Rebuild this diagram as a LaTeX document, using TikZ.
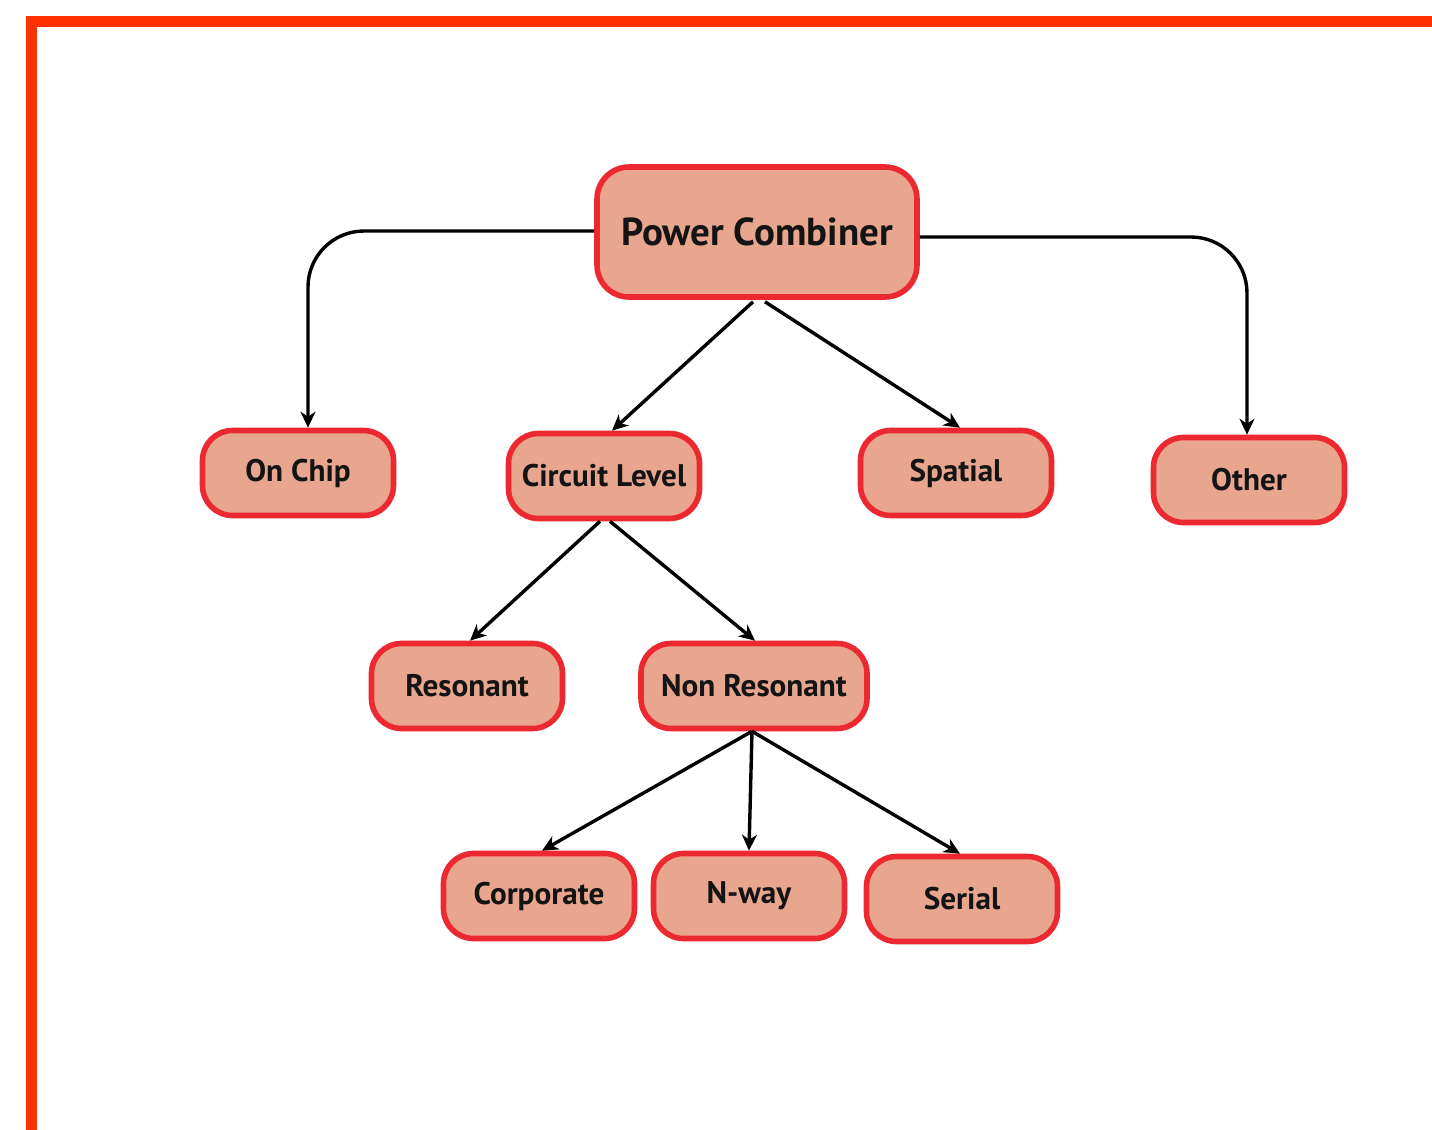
\documentclass[tikz,border=0pt]{standalone}
\usepackage{fontspec}
\setmainfont{PT Sans}
\usetikzlibrary{arrows.meta,calc}
\definecolor{frame}{HTML}{FF3300}
\definecolor{nodefill}{HTML}{E8A68E}
\definecolor{nodeline}{HTML}{EC2830}
\tikzset{
  box/.style={draw=nodeline, fill=nodefill, line width=2.8pt, rounded corners=15pt,
    minimum width=95.5pt, minimum height=42.5pt, inner sep=0pt,
    font=\fontsize{15.6}{18}\selectfont\bfseries, text=black!92},
  arr/.style={draw=black, line width=1.7pt, -{Stealth[length=8pt,width=7.5pt,inset=2.5pt]}},
}
\begin{document}
\begin{tikzpicture}[x=0.5pt,y=-0.5pt]
\useasboundingbox (0,0) rectangle (1432,1130);
\fill[white] (0,0) rectangle (1432,1130);
\draw[frame, line width=5.5pt, miter limit=10] (31.5,1140) -- (31.5,21.5) -- (1440,21.5);

\node[box, minimum width=160pt, minimum height=65pt, rounded corners=16pt,
  font=\fontsize{19.5}{22}\selectfont\bfseries] (pc) at (757,232) {Power Combiner};
\node[box] (onchip) at (298,473) {On Chip};
\node[box] (cl) at (604,476) {Circuit Level};
\node[box] (sp) at (956,473) {Spatial};
\node[box] (ot) at (1249,480) {Other};
\node[box] (res) at (467,686) {Resonant};
\node[box, minimum width=113pt] (nr) at (754,686) {Non Resonant};
\node[box] (corp) at (539,896) {Corporate};
\node[box] (nway) at (749,896) {N-way};
\node[box] (ser) at (962,899) {Serial};

\draw[arr, rounded corners=28pt] ($(pc.west)+(0,-1)$) -| ($(onchip.north)+(10,0)$);
\draw[arr, rounded corners=28pt] ($(pc.east)+(0,5)$) -| ($(ot.north)+(-2,0)$);
\draw[arr] ($(pc.south)+(-4,2)$) -- ($(cl.north)+(8,0)$);
\draw[arr] ($(pc.south)+(8,2)$) -- ($(sp.north)+(4,0)$);
\draw[arr] ($(cl.south)+(-4,0)$) -- ($(res.north)+(3,0)$);
\draw[arr] ($(cl.south)+(6,0)$) -- ($(nr.north)+(1,0)$);
\draw[arr] ($(nr.south)+(-2,0)$) -- ($(corp.north)+(3,0)$);
\draw[arr] ($(nr.south)+(-2,0)$) -- ($(nway.north)+(0,0)$);
\draw[arr] ($(nr.south)+(-2,0)$) -- ($(ser.north)+(-2,0)$);
\end{tikzpicture}
\end{document}
